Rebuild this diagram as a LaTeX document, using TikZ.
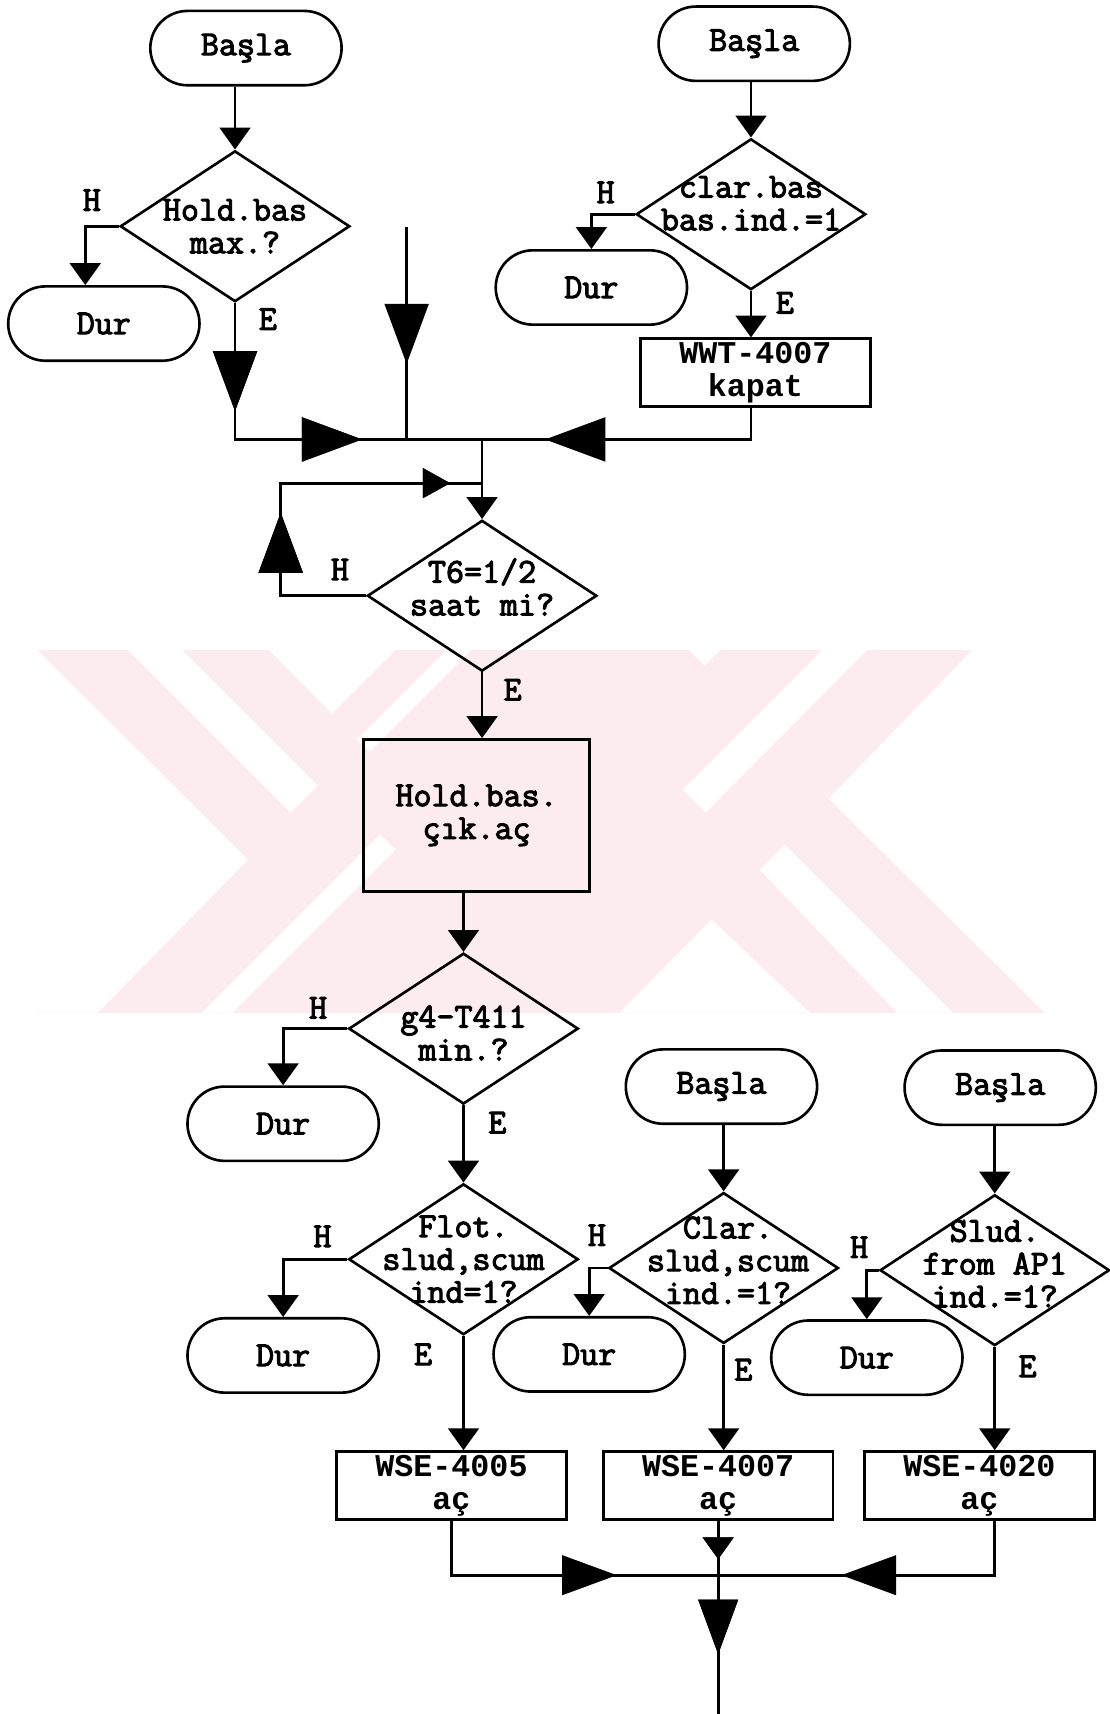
\documentclass[tikz,border=0pt]{standalone}
\usepackage{fontspec}
\newfontfamily\chartfont{Liberation Mono}
\newfontfamily\courfont[FakeBold=3]{Latin Modern Mono}
\usetikzlibrary{shapes.geometric,arrows.meta,decorations.markings}
\definecolor{wmpink}{RGB}{252,236,239}
\newcommand{\flowfont}{\courfont\fontsize{32}{30}\selectfont}
\newcommand{\boxfont}{\chartfont\bfseries\fontsize{29}{30}\selectfont}
\tikzset{
  tri/.tip={Triangle[length=20pt,width=28pt]},
  midtri/.tip={Triangle[length=25pt,width=27pt]},
  bigtri/.tip={Triangle[length=55pt,width=40pt]},
  lowtri/.tip={Triangle[length=50pt,width=36pt]},
  conn/.style={line width=2.6pt},
  flow/.style={conn, -tri},
  midtip/.style 2 args={postaction={decorate},
    decoration={markings, mark=at position #1 with {\arrow{#2}}}},
  term/.style={draw, line width=2.4pt, rounded corners=34pt,
    minimum width=175pt, minimum height=68pt, font=\flowfont},
  decision/.style={draw, diamond, line width=2.4pt, minimum width=210pt,
    minimum height=138pt, inner sep=0pt},
  dtext/.style={align=center, font=\flowfont},
  proc/.style={draw, line width=2.6pt, minimum width=210pt, minimum height=62pt,
    inner sep=0pt, align=center, font=\boxfont},
  lbl/.style={font=\flowfont}
}
\begin{document}
\begin{tikzpicture}[x=1pt,y=-1pt]
\useasboundingbox (0,0) rectangle (1015,1568);
% watermark
\begin{scope}[scale=0.9144]
  \fill[wmpink] (37,650) rectangle (1045,1013);
  \fill[white] (37,650) -- (248,860) -- (98,1013) -- (37,1013) -- cycle;
  \fill[white] (128,650) -- (182,650) -- (318,786) -- (291,813) -- cycle;
  \fill[white] (269,650) -- (396,650) -- (332,714) -- cycle;
  \fill[white] (447,650) -- (472,650) -- (370,752) -- (357,740) -- cycle;
  \fill[white] (202,1013) -- (233,1013) -- (396,850) -- (380,835) -- cycle;
  \fill[white] (620,1013) -- (712,920) -- (810,1013) -- cycle;
  \fill[white] (689,650) -- (721,650) -- (705,666) -- cycle;
  \fill[white] (823,650) -- (868,650) -- (706,813) -- (683,790) -- cycle;
  \fill[white] (760,870) -- (785,845) -- (953,1013) -- (897,1013) -- cycle;
  \fill[white] (973,650) -- (1110,650) -- (1110,1013) -- (1045,1013) -- (829,799) -- cycle;
\end{scope}

% upper left
\node[term] (basla1) at (225,44) {Başla};
\node[decision, label={[dtext]center:{Hold.bas\\max.?}}] (dec1) at (215,207) {};
\node[term] (dur1) at (95,296) {Dur};
\node[lbl] (h1) at (84,183) {H};
\node[lbl] (e1) at (245,292) {E};

% upper right
\node[term] (basla2) at (690,40) {Başla};
\node[decision, label={[dtext, yshift=10pt]center:{clar.bas\\bas.ind.=1}}] (dec2) at (687,196) {};
\node[term] (dur2) at (541,263) {Dur};
\node[proc] (wwt) at (691,341) {WWT-4007\\kapat};
\node[lbl] (h2) at (554,176) {H};
\node[lbl] (e2) at (718,277) {E};

\coordinate (feed) at (372,208);
\coordinate (j1) at (372,402);
\coordinate (j2) at (441,402);
\coordinate (j3) at (441,442);

% middle
\node[decision, label={[dtext, yshift=8pt]center:{T6=1/2\\saat mi?}}] (dec3) at (441,545) {};
\node[proc, minimum width=207pt, minimum height=139pt, font=\flowfont] (hold) at (436,746) {Hold.bas.\\çık.aç};
\node[decision, label={[dtext, yshift=-4pt]center:{g4-T411\\min.?}}] (dec4) at (424,941) {};
\node[term] (dur3) at (259,1028) {Dur};
\node[decision, label={[dtext]center:{Flot.\\slud,scum\\ind=1?}}] (dec5) at (424,1152) {};
\node[term] (dur4) at (259,1240) {Dur};
\node[lbl] (h3) at (311,521) {H};
\node[lbl] (e3) at (469,631) {E};
\node[lbl] (h4) at (291,922) {H};
\node[lbl] (e4) at (455,1027) {E};
\node[lbl] (h5) at (295,1131) {H};
\node[lbl] (e5) at (387,1239) {E};

% lower right
\node[term] (basla3) at (660,994) {Başla};
\node[decision, label={[dtext, yshift=7pt, xshift=4pt]center:{Clar.\\slud,scum\\ind.=1?}}] (dec6) at (662,1160) {};
\node[term] (dur5) at (539,1239) {Dur};
\node[term] (basla4) at (915,995) {Başla};
\node[decision, label={[dtext, yshift=6pt]center:{Slud.\\from AP1\\ind.=1?}}] (dec7) at (910,1162) {};
\node[term] (dur6) at (793,1242) {Dur};
\node[lbl] (h6) at (546,1130) {H};
\node[lbl] (e6) at (680,1253) {E};
\node[lbl] (h7) at (786,1141) {H};
\node[lbl] (e7) at (940,1250) {E};

\node[proc] (wse1) at (413,1359) {WSE-4005\\aç};
\node[proc] (wse2) at (657,1359) {WSE-4007\\aç};
\node[proc] (wse3) at (896,1359) {WSE-4020\\aç};
\coordinate (j4) at (657,1441);
\coordinate (out) at (657,1568);

% connectors
\draw[flow] (dec1.north |- basla1.south) -- (dec1.north);
\draw[flow] (dec1.west) -| ([xshift=-17pt]dur1.north);
\draw[conn, midtip={99pt}{bigtri}, midtip={241pt}{bigtri}] (dec1.south) |- (j2);
\draw[conn, midtip={125pt}{bigtri}] (feed) -- (j1);

\draw[flow] (dec2.north |- basla2.south) -- (dec2.north);
\draw[flow] (dec2.west) -| (dur2.north);
\draw[flow] (dec2.south) -- (dec2.south |- wwt.north);
\draw[conn, midtip={217pt}{bigtri}] (dec2.south |- wwt.south) |- (j2);

\draw[flow] (j2) -- (dec3.north);
\draw[conn, midtip={154pt}{bigtri}, midtip={336pt}{midtri}] (dec3.west) -- ++(-78,0) |- (j3);
\draw[flow] (dec3.south) -- (dec3.south |- hold.north);
\draw[flow] (dec4.north |- hold.south) -- (dec4.north);
\draw[flow] (dec4.west) -| (dur3.north);
\draw[flow] (dec4.south) -- (dec5.north);
\draw[flow] (dec5.west) -| (dur4.north);
\draw[flow] (dec5.south) -- (dec5.south |- wse1.north);

\draw[flow] (dec6.north |- basla3.south) -- (dec6.north);
\draw[flow] (dec6.west) -| (dur5.north);
\draw[flow] (dec6.south) -- (dec6.south |- wse2.north);
\draw[flow] (dec7.north |- basla4.south) -- (dec7.north);
\draw[flow] (dec7.west) -| (dur6.north);
\draw[flow] (dec7.south) -- (dec7.south |- wse3.north);

\draw[conn, midtip={201pt}{lowtri}] (wse1.south) |- (j4);
\draw[conn, midtip={190pt}{lowtri}] (dec7.south |- wse3.south) |- (j4);
\draw[conn, midtip={35pt}{tri}, midtip={122pt}{lowtri}] (wse2.south) -- (out);
\end{tikzpicture}
\end{document}
